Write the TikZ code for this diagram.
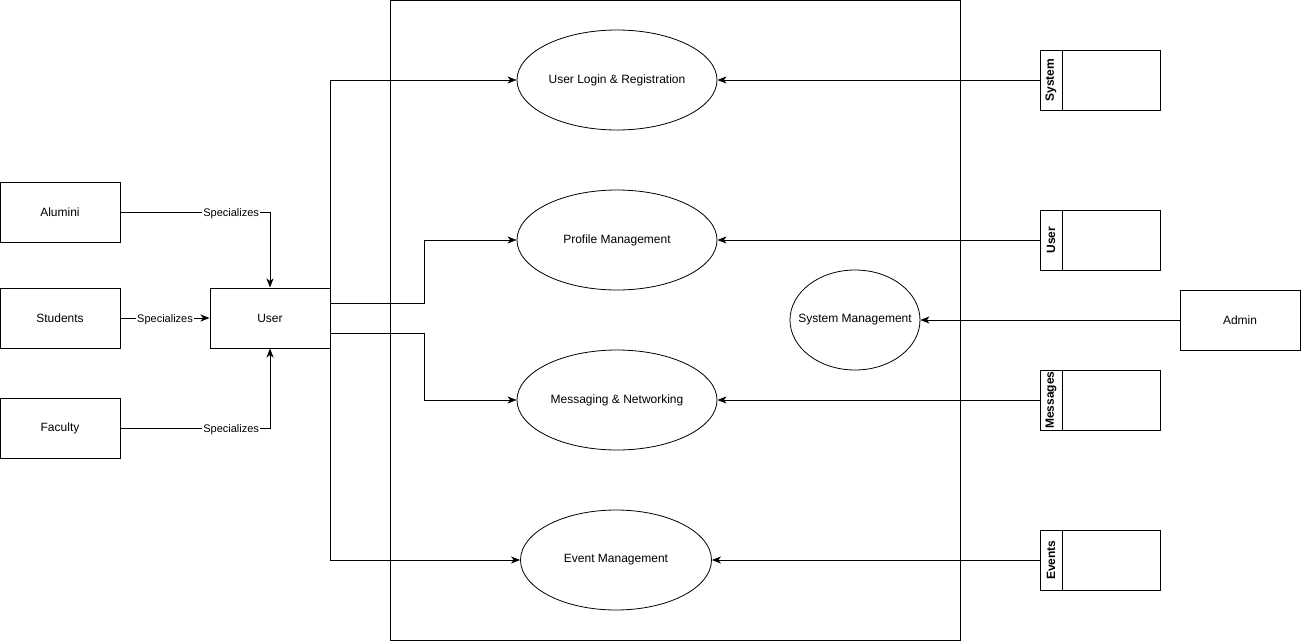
\documentclass[tikz,border=0pt]{standalone}
\usepackage{fontspec}
\setmainfont{Liberation Sans}
\usetikzlibrary{
    arrows.meta,
    shapes.geometric,
    positioning
}

\tikzset{
    actor/.style={draw, line width=1pt, minimum width=120pt, minimum height=60pt, inner sep=0pt, font=\fontsize{12}{14}\selectfont},
    usecase/.style={draw, ellipse, line width=0.8pt, inner sep=0pt, font=\fontsize{12}{14}\selectfont},
    store/.style={draw, line width=1pt, minimum width=120pt, minimum height=60pt, inner sep=0pt},
    storelabel/.style={rotate=90, font=\bfseries\fontsize{12}{14}\selectfont},
    link/.style={line width=1pt, -{Stealth[length=9pt, width=7pt, inset=2.5pt]}},
    spec/.style={fill=white, inner sep=1pt, yshift=-2pt, font=\fontsize{11}{13}\selectfont}
}

\begin{document}
\begin{tikzpicture}[x=1pt, y=-1pt]
    \useasboundingbox (0, 0) rectangle (1301, 641);

    % system boundary
    \draw[line width=1pt] (390.5, 0.5) rectangle (960.5, 640);

    % actors
    \node[actor] (alumni) at (60, 212) {Alumini};
    \node[actor] (students) at (60, 318) {Students};
    \node[actor] (faculty) at (60, 428) {Faculty};
    \node[actor] (user) at (270, 318) {User};
    \node[actor] (admin) at (1240, 320) {Admin};

    % use cases
    \node[usecase, minimum width=200pt, minimum height=100pt] (login) at (617, 80) {User Login \& Registration};
    \node[usecase, minimum width=200pt, minimum height=100pt] (profile) at (617, 240) {Profile Management};
    \node[usecase, minimum width=200pt, minimum height=100pt] (messaging) at (617, 400) {Messaging \& Networking};
    \node[usecase, minimum width=191pt, minimum height=100pt] (event) at (616, 560) {Event Management};
    \node[usecase, minimum width=130pt, minimum height=100pt] (sysmgmt) at (855, 320) {\makebox[0pt]{System Management}};

    % data stores
    \foreach \name/\txt/\y in {dsystem/System/80, duser/User/240, dmessages/Messages/400, devents/Events/560} {
        \node[store] (\name) at (1100, \y) {};
        \draw[line width=1pt] ([xshift=23pt]\name.north west) -- ([xshift=23pt]\name.south west);
        \node[storelabel] at ([xshift=11.5pt]\name.west) {\txt};
    }

    % specializations
    \draw[link] (alumni.east) -| node[spec, pos=0.37] {Specializes} (user.north);
    \draw[link] (students.east) -- node[spec] {Specializes} (user.west);
    \draw[link] (faculty.east) -| node[spec, pos=0.37] {Specializes} (user.south);

    % user to use cases
    \draw[link] (user.north east) |- (login.west);
    \draw[link] ([yshift=15pt]user.east) -- ++(94, 0) |- (profile.west);
    \draw[link] ([yshift=-15pt]user.east) -- ++(94, 0) |- (messaging.west);
    \draw[link] (user.south east) |- (event.west);

    % stores to use cases
    \draw[link] (dsystem.west) -- (login.east);
    \draw[link] (duser.west) -- (profile.east);
    \draw[link] (dmessages.west) -- (messaging.east);
    \draw[link] (devents.west) -- (event.east);
    \draw[link] (admin.west) -- (sysmgmt.east);
\end{tikzpicture}
\end{document}
